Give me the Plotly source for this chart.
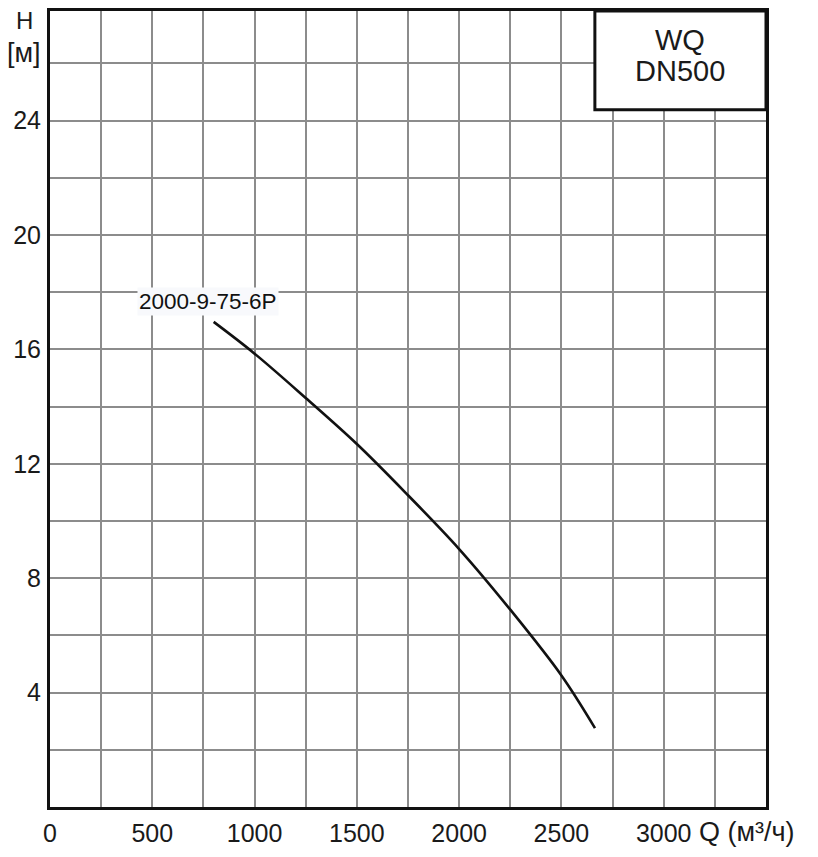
import plotly.graph_objects as go

# Data
flow_q = [800, 1000, 1250, 1500, 1750, 2000, 2250, 2500, 2664]
head_h = [16.96, 15.85, 14.3, 12.69, 10.9, 9.02, 6.9, 4.6, 2.76]
curve_name = "2000-9-75-6P"
x_ticks = [0, 500, 1000, 1500, 2000, 2500, 3000]
y_ticks = [4, 8, 12, 16, 20, 24]

FONT = "Liberation Sans, Arial, sans-serif"
GRID = "#8c8c8c"

fig = go.Figure()
fig.add_trace(go.Scatter(
    x=flow_q, y=head_h, mode="lines",
    line=dict(color="#111111", width=2.6, shape="spline", smoothing=1.0),
    hoverinfo="skip", showlegend=False,
))

fig.update_layout(
    width=818, height=857,
    margin=dict(l=42, r=60, t=0, b=58),
    paper_bgcolor="white", plot_bgcolor="white",
    font=dict(family=FONT, size=25, color="#1a1a1a"),
    showlegend=False,
)
fig.update_xaxes(
    range=[0, 3500], tickvals=x_ticks, ticktext=[str(v) for v in x_ticks],
    showgrid=True, gridcolor=GRID, gridwidth=1.5,
    minor=dict(dtick=250, showgrid=True, gridcolor=GRID, gridwidth=1.5),
    showline=True, linecolor="#111111", linewidth=3, mirror=True,
    ticks="", zeroline=False, tickfont=dict(size=25), ticklabelstandoff=2,
)
fig.update_yaxes(
    range=[0, 27.83], tickvals=y_ticks, ticktext=[str(v) for v in y_ticks],
    showgrid=True, gridcolor=GRID, gridwidth=1.5,
    minor=dict(dtick=2, showgrid=True, gridcolor=GRID, gridwidth=1.5),
    showline=True, linecolor="#111111", linewidth=3, mirror=True,
    ticks="", zeroline=False, tickfont=dict(size=25), ticklabelstandoff=1,
)

# Axis titles
fig.add_annotation(text="H", xref="paper", yref="paper", x=-0.035, y=0.9875,
                   xanchor="center", yanchor="middle", showarrow=False,
                   font=dict(size=24))
fig.add_annotation(text="[м]", xref="paper", yref="paper", x=-0.036, y=0.947,
                   xanchor="center", yanchor="middle", showarrow=False,
                   font=dict(size=27))
fig.add_annotation(text="Q (м³/ч)", xref="paper", yref="paper", x=0.9036, y=-0.0313,
                   xanchor="left", yanchor="middle", showarrow=False,
                   font=dict(size=27))

# Curve label
fig.add_annotation(text=curve_name, x=772, y=17.66, xref="x", yref="y",
                   xanchor="center", yanchor="middle",
                   showarrow=False, bgcolor="#f8f9fc",
                   font=dict(size=22.5, color="#111111"))

# Title box
fig.add_shape(type="rect", xref="paper", yref="paper",
              x0=0.761, x1=1.0, y0=0.876, y1=1.0,
              line=dict(color="#111111", width=3), fillcolor="white", layer="above")
fig.add_annotation(text="WQ", xref="paper", yref="paper", x=0.88, y=0.964,
                   xanchor="center", yanchor="middle", showarrow=False,
                   font=dict(size=29, color="#1a1a1a"))
fig.add_annotation(text="DN500", xref="paper", yref="paper", x=0.88, y=0.924,
                   xanchor="center", yanchor="middle", showarrow=False,
                   font=dict(size=29, color="#1a1a1a"))

fig.write_html("out.html")
